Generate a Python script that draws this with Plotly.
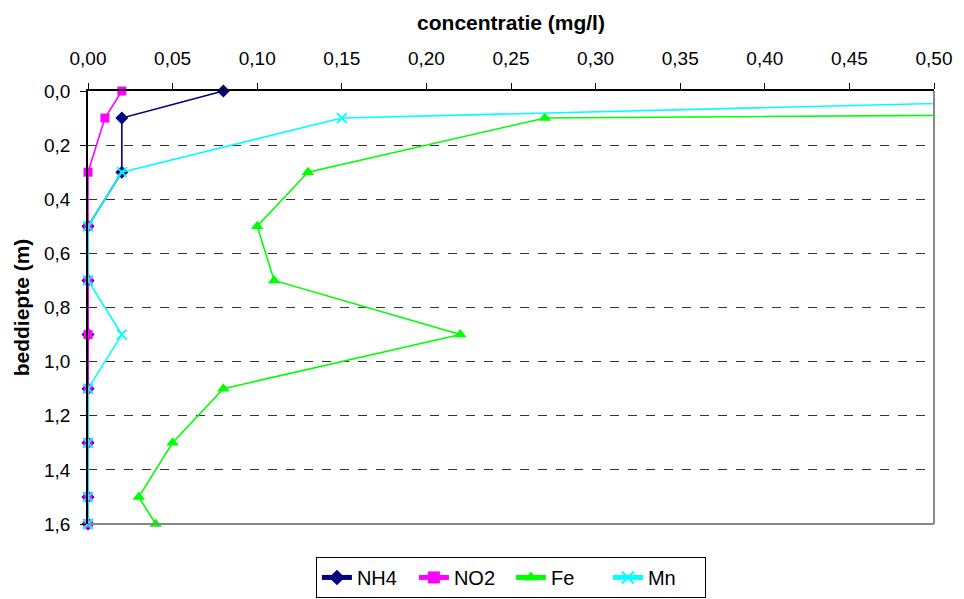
import plotly.graph_objects as go

depth = [0.0, 0.1, 0.3, 0.5, 0.7, 0.9, 1.1, 1.3, 1.5, 1.6]
nh4 = [0.08, 0.02, 0.02, 0.0, 0.0, 0.0, 0.0, 0.0, 0.0, 0.0]
no2 = [0.02, 0.01, 0.0, 0.0, 0.0, 0.0, 0.0, 0.0, 0.0, 0.0]
fe = [2.6, 0.27, 0.13, 0.10, 0.11, 0.22, 0.08, 0.05, 0.03, 0.04]
mn = [0.8, 0.15, 0.02, 0.0, 0.0, 0.02, 0.0, 0.0, 0.0, 0.0]

x_ticks = [0.0, 0.05, 0.10, 0.15, 0.20, 0.25, 0.30, 0.35, 0.40, 0.45, 0.50]
y_ticks = [0.0, 0.2, 0.4, 0.6, 0.8, 1.0, 1.2, 1.4, 1.6]

series = [
    ("NH4", nh4, "#000080", "diamond", 10),
    ("NO2", no2, "#FF00FF", "square", 9),
    ("Fe", fe, "#00FF00", "triangle-up", 11),
    ("Mn", mn, "#00FFFF", "x-thin", 10),
]

fam = "Liberation Sans, Arial, sans-serif"

fig = go.Figure()
for name, vals, color, sym, size in series:
    marker = dict(symbol=sym, size=size, color=color)
    if sym == "x-thin":
        marker["line"] = dict(width=1.8, color=color)
    fig.add_trace(go.Scatter(
        x=vals, y=depth, name=name, mode="lines+markers",
        line=dict(color=color, width=1.6), marker=marker,
        cliponaxis=False,
    ))

fig.update_layout(
    width=964, height=599,
    margin=dict(l=88, r=25, t=91, b=75),
    paper_bgcolor="white", plot_bgcolor="white",
    separators=",.",
    font=dict(family=fam, size=19, color="black"),
    showlegend=True,
    legend=dict(
        orientation="h", x=0.53, y=0.036, xanchor="center", yanchor="middle",
        xref="container", yref="container",
        bordercolor="black", borderwidth=1, bgcolor="white",
        font=dict(family=fam, size=20, color="black"),
        itemsizing="constant", tracegroupgap=0,
        entrywidth=52, entrywidthmode="pixels",
    ),
    xaxis=dict(
        side="top", range=[0, 0.5], tickvals=x_ticks, tickformat=".2f",
        showline=True, linecolor="black", linewidth=1.5,
        ticks="outside", ticklen=6, tickcolor="black", tickwidth=1,
        ticklabelstandoff=11,
        showgrid=False, zeroline=False,
        tickfont=dict(family=fam, size=19),
        title=dict(text="<b>concentratie (mg/l)</b>", standoff=11,
                   font=dict(family=fam, size=21)),
    ),
    yaxis=dict(
        range=[1.6, 0.0], tickvals=y_ticks, tickformat=".1f",
        showline=True, linecolor="black", linewidth=1.5,
        ticks="outside", ticklen=6, tickcolor="black", tickwidth=1,
        ticklabelstandoff=6,
        showgrid=True, gridcolor="#333333", gridwidth=1, griddash="dash",
        zeroline=False,
        tickfont=dict(family=fam, size=19),
        title=dict(text="<b>beddiepte (m)</b>", standoff=9,
                   font=dict(family=fam, size=21)),
    ),
)

# Grey plot-area border on right and bottom
fig.add_shape(type="line", xref="x domain", yref="y domain", x0=1, x1=1, y0=0, y1=1,
              line=dict(color="#888888", width=2), layer="above")
fig.add_shape(type="line", xref="x domain", yref="y domain", x0=0, x1=1, y0=0, y1=0,
              line=dict(color="#888888", width=2), layer="above")

fig.write_html("out.html")
